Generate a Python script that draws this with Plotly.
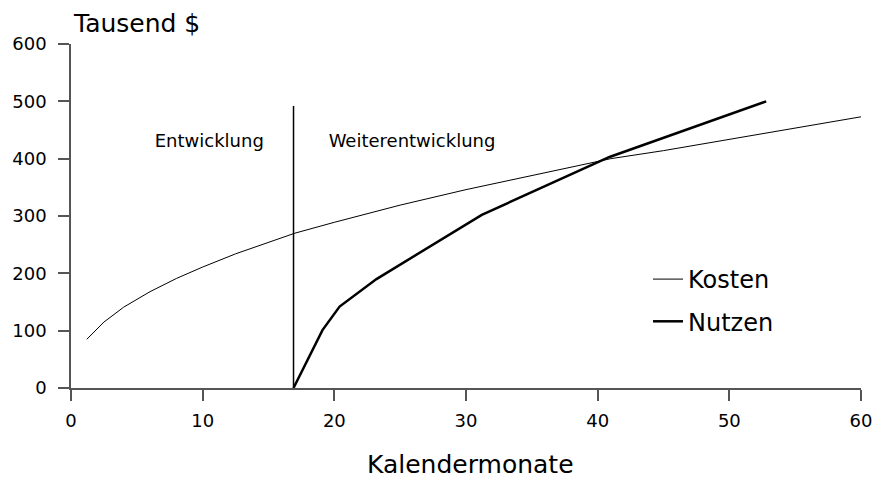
import plotly.graph_objects as go

# Data
kosten_x = [1.2, 2.5, 4, 6, 8, 10, 12.5, 15, 17, 20, 25, 30, 35, 41, 45, 50, 55, 60]
kosten_y = [85, 115, 141, 168, 191, 211, 234, 254, 270, 289, 319, 346, 371, 400, 414, 434, 454, 473]

nutzen_x = [16.9, 19.1, 20.4, 23.2, 31.2, 40.9, 52.8]
nutzen_y = [0, 101, 142, 190, 302, 403, 500]

grenze_x = [16.9, 16.9]
grenze_y = [0, 492]

phase_labels = ["Entwicklung", "Weiterentwicklung"]
phase_x = [10.5, 25.9]
phase_y = [429, 429]

x_ticks = [0, 10, 20, 30, 40, 50, 60]
y_ticks = [0, 100, 200, 300, 400, 500, 600]

FONT = "DejaVu Sans, Liberation Sans, Arial, sans-serif"

fig = go.Figure()
fig.add_trace(go.Scatter(x=kosten_x, y=kosten_y, mode="lines", name="Kosten",
                         line=dict(color="black", width=1), legendgroup="a"))
fig.add_trace(go.Scatter(x=nutzen_x, y=nutzen_y, mode="lines", name="Nutzen",
                         line=dict(color="black", width=2.5), legendgroup="b"))
fig.add_trace(go.Scatter(x=grenze_x, y=grenze_y, mode="lines", showlegend=False,
                         line=dict(color="black", width=1.5)))
fig.add_trace(go.Scatter(x=phase_x, y=phase_y, mode="text", text=phase_labels,
                         textfont=dict(size=18, color="black", family=FONT),
                         showlegend=False))

fig.update_layout(
    width=874, height=478,
    margin=dict(l=71, r=13, t=44, b=90),
    plot_bgcolor="white", paper_bgcolor="white",
    font=dict(family=FONT, color="black"),
    showlegend=True,
    legend=dict(x=(648 - 71) / 790, y=(388 - 257) / 344, xanchor="left", yanchor="top",
                font=dict(size=24, color="black"), tracegroupgap=8,
                bgcolor="rgba(0,0,0,0)"),
    xaxis=dict(range=[0, 60], tickvals=x_ticks, showgrid=False, zeroline=False,
               automargin=False,
               showline=True, linecolor="#555", linewidth=1.5,
               ticks="outside", ticklen=11, tickwidth=1.5, tickcolor="#555",
               ticklabelstandoff=5,
               tickfont=dict(size=18, color="black")),
    yaxis=dict(range=[0, 600], tickvals=y_ticks, showgrid=False, zeroline=False,
               automargin=False,
               showline=True, linecolor="#555", linewidth=1.5,
               ticks="outside", ticklen=11, tickwidth=1.5, tickcolor="#555",
               ticklabelstandoff=8,
               tickfont=dict(size=18, color="black")),
    annotations=[
        dict(text="Tausend $", xref="paper", yref="paper", x=0,
             y=(388 - 24) / 344, xanchor="left", yanchor="middle",
             showarrow=False, font=dict(size=25, color="black")),
        dict(text="Kalendermonate", xref="paper", yref="paper", x=(471 - 71.5) / 790,
             y=(388 - 464) / 344, xanchor="center", yanchor="middle",
             showarrow=False, font=dict(size=25, color="black")),
    ],
)

fig.write_html("out.html", config={"displayModeBar": False},
               post_script="document.body.style.margin='0';document.body.style.overflow='hidden';")
